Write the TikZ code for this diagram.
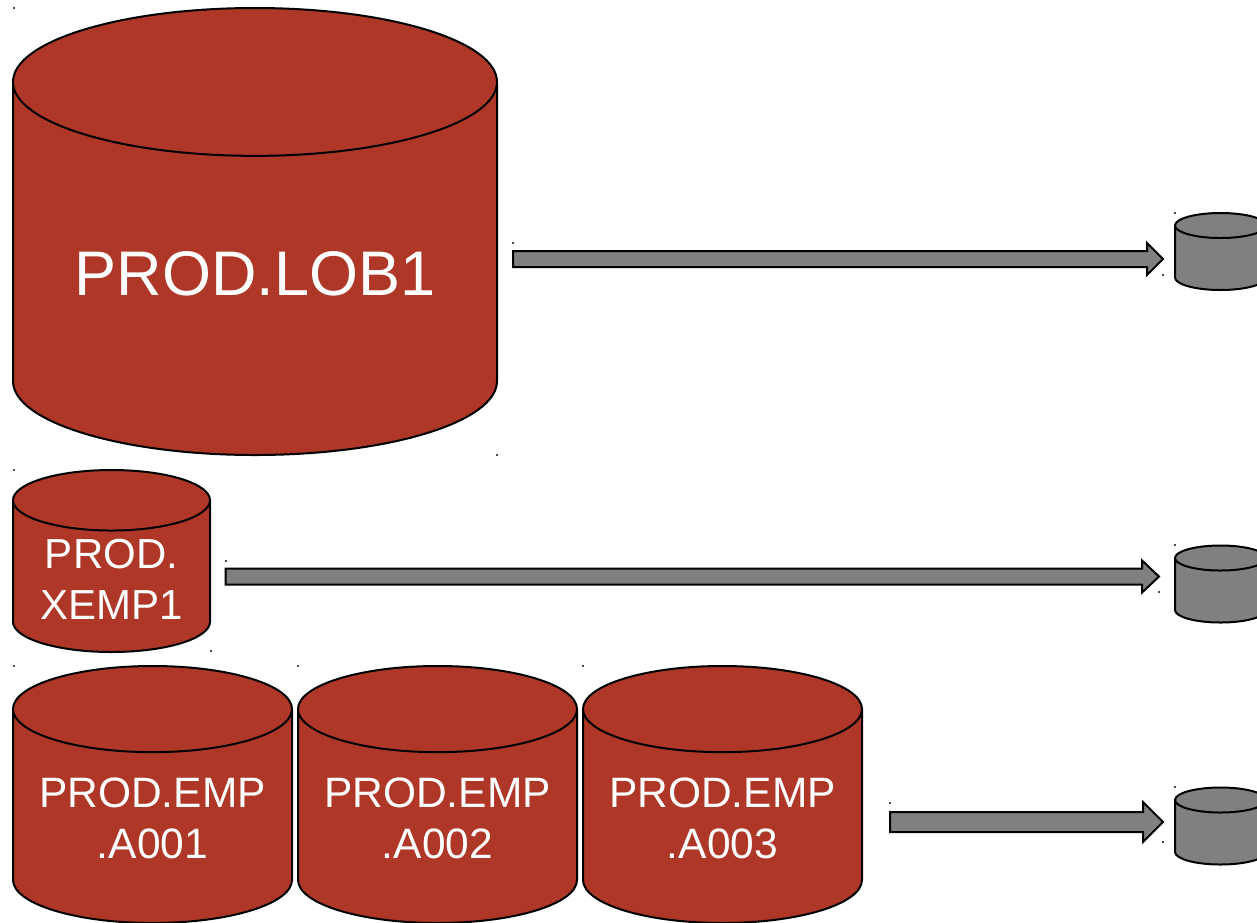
\documentclass[tikz,border=0pt]{standalone}
\usepackage{fontspec}
\setmainfont{Liberation Sans}
\usepackage{tikz}
\usetikzlibrary{shapes.geometric,calc}
\definecolor{dbred}{RGB}{174,55,40}
\definecolor{dbgray}{RGB}{128,128,128}
\tikzset{
  dbcyl/.style={draw=black, line width=2pt, cylinder, shape border rotate=90,
    cylinder uses custom fill, cylinder body fill=dbred, cylinder end fill=dbred,
    anchor=shape center, inner sep=0pt, text=white, align=center},
  empcyl/.style={dbcyl, minimum width=279pt, minimum height=257pt, aspect=0.38,
    font=\fontsize{42.5}{51}\selectfont},
  grycyl/.style={dbcyl, cylinder body fill=dbgray, cylinder end fill=dbgray,
    minimum width=91pt, minimum height=77pt, aspect=1.8},
  blockarrow/.style n args={3}{draw=black, fill=dbgray, line width=2pt, to path={
    let \p1=(\tikztostart), \p2=(\tikztotarget) in
    (\x1,\y1+#1) -- (\x2-#3,\y1+#1) -- (\x2-#3,\y1+#2) -- (\x2,\y1)
    -- (\x2-#3,\y1-#2) -- (\x2-#3,\y1-#1) -- (\x1,\y1-#1) -- cycle}}
}
\begin{document}
\begin{tikzpicture}[x=1pt,y=-1pt]
  \useasboundingbox (0,0) rectangle (1257,922);
  \clip (0,0) rectangle (1257,922);
  % source tablespaces
  \node[dbcyl, minimum width=484pt, minimum height=447pt, aspect=0.41, text height=53pt, font=\fontsize{63}{70}\selectfont] (lob1) at (255,231.5) {PROD.LOB1};
  \node[dbcyl, minimum width=197pt, minimum height=182pt, aspect=0.425, font=\fontsize{42}{51}\selectfont] (xemp1) at (111.5,561) {\rule{0pt}{34pt}PROD.\\XEMP1};
  \node[empcyl] (a001) at (152.5,794.5) {\rule{0pt}{34pt}PROD.EMP\\.A001};
  \node[empcyl] (a002) at (437.5,794.5) {\rule{0pt}{34pt}PROD.EMP\\.A002};
  \node[empcyl] (a003) at (722.5,794.5) {\rule{0pt}{34pt}PROD.EMP\\.A003};
  % targets
  \node[grycyl] (tgt1) at (1220.5,251.5) {\phantom{DB}};
  \node[grycyl] (tgt2) at (1220.5,584) {\phantom{DB}};
  \node[grycyl] (tgt3) at (1220.5,826) {\phantom{DB}};
  % arrows
  \coordinate (tail1) at (513,259);
  \coordinate (tip1) at (1163,259);
  \coordinate (tail2) at (225.5,576.5);
  \coordinate (tip2) at (1159,576.5);
  \coordinate (tail3) at (890,822);
  \coordinate (tip3) at (1163,822);
  \draw[blockarrow={8pt}{16pt}{16pt}] (tail1) to (tip1);
  \draw[blockarrow={8pt}{16pt}{17pt}] (tail2) to (tip2);
  \draw[blockarrow={10pt}{20pt}{20pt}] (tail3) to (tip3);
  % corner ticks
  \foreach \tx/\ty in {14/8,497/455,513/243,1163/275,1175/213,14/470,211/651,226/561,1159/592,1175/545,14/666,298/666,583/666,890/803,1163/842,1175/787}
    \fill[black!70] (\tx-0.7,\ty-0.7) rectangle (\tx+0.7,\ty+0.7);
\end{tikzpicture}
\end{document}
